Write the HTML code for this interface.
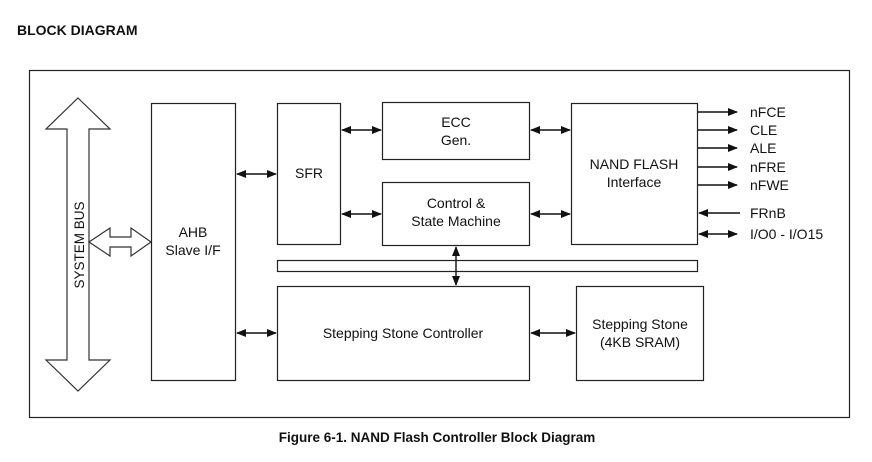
<!DOCTYPE html>
<html><head><style>
body{margin:0;background:#fff;}
svg text{font-family:"Liberation Sans",Arial,sans-serif;fill:#111;}
</style></head><body>
<svg width="872" height="457" viewBox="0 0 872 457" xmlns="http://www.w3.org/2000/svg">
<defs>
<marker id="a" markerWidth="10" markerHeight="8" refX="9" refY="4" orient="auto-start-reverse" markerUnits="userSpaceOnUse">
<path d="M0,0 L10,4 L0,8 z" fill="#111"/></marker>
</defs>
<text x="17" y="35" font-size="14" font-weight="bold">BLOCK DIAGRAM</text>
<rect x="29.5" y="70.5" width="820" height="347" fill="none" stroke="#222" stroke-width="1.2"/>
<path d="M78,98 L110,129 L89,129 L89,360 L110,360 L78,391 L46,360 L67,360 L67,129 L46,129 Z" fill="#fff" stroke="#333" stroke-width="1.2"/>
<text transform="translate(84,245) rotate(-90)" font-size="13.5" text-anchor="middle">SYSTEM BUS</text>
<path d="M89,242 L110,228 L110,237 L131,237 L131,228 L151,242 L131,256 L131,247 L110,247 L110,256 Z" fill="#fff" stroke="#333" stroke-width="1.2"/>
<g fill="none" stroke="#222" stroke-width="1.2">
<rect x="151.5" y="103.5" width="84" height="277"/>
<rect x="277.5" y="103.5" width="63" height="141"/>
<rect x="382.5" y="102.5" width="147" height="57"/>
<rect x="382.5" y="182.5" width="147" height="63"/>
<rect x="277.5" y="260.5" width="420" height="11"/>
<rect x="277.5" y="286.5" width="252" height="94"/>
<rect x="576.5" y="286.5" width="127" height="94"/>
<rect x="571.5" y="103.5" width="126" height="141"/>
</g>
<g stroke="#111" stroke-width="1.4" fill="none">
<line x1="237" y1="174" x2="276" y2="174" marker-start="url(#a)" marker-end="url(#a)"/>
<line x1="342" y1="130" x2="381" y2="130" marker-start="url(#a)" marker-end="url(#a)"/>
<line x1="342" y1="214" x2="381" y2="214" marker-start="url(#a)" marker-end="url(#a)"/>
<line x1="531" y1="130" x2="570" y2="130" marker-start="url(#a)" marker-end="url(#a)"/>
<line x1="531" y1="214" x2="570" y2="214" marker-start="url(#a)" marker-end="url(#a)"/>
<line x1="237" y1="333" x2="276" y2="333" marker-start="url(#a)" marker-end="url(#a)"/>
<line x1="531" y1="333" x2="575" y2="333" marker-start="url(#a)" marker-end="url(#a)"/>
<line x1="456" y1="247" x2="456" y2="285" marker-start="url(#a)" marker-end="url(#a)"/>
<line x1="698" y1="112" x2="737" y2="112" marker-end="url(#a)"/>
<line x1="698" y1="130" x2="737" y2="130" marker-end="url(#a)"/>
<line x1="698" y1="148" x2="737" y2="148" marker-end="url(#a)"/>
<line x1="698" y1="167" x2="737" y2="167" marker-end="url(#a)"/>
<line x1="698" y1="185" x2="737" y2="185" marker-end="url(#a)"/>
<line x1="740" y1="213" x2="699" y2="213" marker-end="url(#a)"/>
<line x1="699" y1="234" x2="737" y2="234" marker-start="url(#a)" marker-end="url(#a)"/>
</g>
<g font-size="14" text-anchor="middle">
<text x="193" y="237">AHB</text><text x="193" y="255">Slave I/F</text>
<text x="309" y="178">SFR</text>
<text x="456" y="127">ECC</text><text x="456" y="145">Gen.</text>
<text x="456" y="208">Control &amp;</text><text x="456" y="226">State Machine</text>
<text x="634" y="169">NAND FLASH</text><text x="634" y="187">Interface</text>
<text x="403" y="338">Stepping Stone Controller</text>
<text x="640" y="329">Stepping Stone</text><text x="640" y="347">(4KB SRAM)</text>
</g>
<g font-size="14">
<text x="750" y="117">nFCE</text><text x="750" y="135">CLE</text><text x="750" y="153">ALE</text>
<text x="750" y="172">nFRE</text><text x="750" y="190">nFWE</text><text x="750" y="218">FRnB</text>
<text x="750" y="239">I/O0 - I/O15</text>
</g>
<text x="437" y="442" font-size="13.5" font-weight="bold" text-anchor="middle">Figure 6-1. NAND Flash Controller Block Diagram</text>
</svg>
</body></html>
